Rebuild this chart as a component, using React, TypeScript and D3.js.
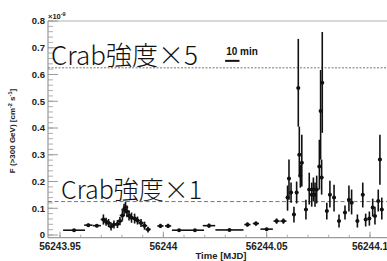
import React from 'react';
import * as d3 from 'd3';

// light curve points (MJD, flux in 1e-9 cm^-2 s^-1)
const times = [
  56243.9568, 56243.9637, 56243.9678, 56243.971, 56243.9723, 56243.9735, 56243.9747, 56243.9761,
  56243.9778, 56243.979, 56243.9802, 56243.981, 56243.9817, 56243.9824, 56243.9834, 56243.9846,
  56243.9861, 56243.9875, 56243.9892, 56243.9909, 56243.9926, 56243.9986, 56244.0023, 56244.0076,
  56244.0153, 56244.0221, 56244.032, 56244.0407, 56244.0448, 56244.05, 56244.0548, 56244.0581,
  56244.0601, 56244.0608, 56244.0618, 56244.0632, 56244.0645, 56244.0653, 56244.0658, 56244.0663,
  56244.067, 56244.069, 56244.0706, 56244.0718, 56244.0726, 56244.0734, 56244.0742, 56244.0755,
  56244.0761, 56244.0766, 56244.0769, 56244.0791, 56244.0806, 56244.0826, 56244.085, 56244.0879,
  56244.0898, 56244.0911, 56244.0939, 56244.0965, 56244.0979, 56244.0997, 56244.1013, 56244.1024,
  56244.104, 56244.1048, 56244.1057,
];
const timeErr = [
  0.0053, 0.002, 0.002, 0.0013, 0.0013, 0.0013, 0.0013, 0.0013,
  0.0013, 0.0013, 0.0013, 0.0013, 0.0013, 0.0013, 0.0013, 0.0013,
  0.0013, 0.0013, 0.0013, 0.0013, 0.0013, 0.0015, 0.0015, 0.0034,
  0.0044, 0.003, 0.0068, 0.0015, 0.0015, 0.003, 0.0015, 0.0015,
  0.0008, 0.0008, 0.0008, 0.0008, 0.0008, 0.0008, 0.0008, 0.0008,
  0.0008, 0.0008, 0.0008, 0.0008, 0.0008, 0.0008, 0.0008, 0.0008,
  0.0008, 0.0008, 0.0008, 0.0008, 0.0008, 0.0008, 0.0008, 0.0008,
  0.0008, 0.0008, 0.0008, 0.0008, 0.0008, 0.0008, 0.0008, 0.0008,
  0.0008, 0.0008, 0.0008,
];
const fluxes = [
  0.018, 0.037, 0.035, 0.058, 0.05, 0.045, 0.032, 0.039,
  0.041, 0.052, 0.073, 0.095, 0.103, 0.088, 0.073, 0.065,
  0.062, 0.054, 0.045, 0.035, 0.021, 0.034, 0.034, 0.018,
  0.018, 0.035, 0.019, 0.039, 0.043, 0.022, 0.052, 0.052,
  0.14, 0.211, 0.159, 0.077, 0.159, 0.55, 0.3, 0.222,
  0.27, 0.095, 0.17, 0.151, 0.17, 0.151, 0.17, 0.256,
  0.464, 0.215, 0.569, 0.09, 0.151, 0.14, 0.052, 0.084,
  0.132, 0.121, 0.052, 0.151, 0.058, 0.062, 0.103, 0.071,
  0.127, 0.282, 0.095,
];
const fluxLow = [
  0.014, 0.031, 0.029, 0.039, 0.035, 0.03, 0.017, 0.024,
  0.026, 0.037, 0.054, 0.073, 0.081, 0.066, 0.054, 0.046,
  0.043, 0.039, 0.03, 0.02, 0.009, 0.026, 0.026, 0.014,
  0.014, 0.027, 0.015, 0.031, 0.035, 0.017, 0.042, 0.042,
  0.091, 0.132, 0.121, 0.047, 0.118, 0.405, 0.218, 0.177,
  0.181, 0.058, 0.114, 0.106, 0.125, 0.106, 0.118, 0.17,
  0.282, 0.151, 0.382, 0.058, 0.103, 0.088, 0.028, 0.058,
  0.088, 0.077, 0.028, 0.103, 0.032, 0.035, 0.069, 0.039,
  0.088, 0.188, 0.058,
];
const fluxHigh = [
  0.022, 0.043, 0.041, 0.077, 0.065, 0.06, 0.047, 0.054,
  0.056, 0.067, 0.092, 0.117, 0.125, 0.11, 0.092, 0.084,
  0.08, 0.069, 0.06, 0.05, 0.031, 0.042, 0.042, 0.022,
  0.022, 0.043, 0.022, 0.047, 0.051, 0.027, 0.062, 0.062,
  0.185, 0.282, 0.196, 0.106, 0.2, 0.733, 0.405, 0.263,
  0.375, 0.132, 0.233, 0.196, 0.215, 0.196, 0.222, 0.356,
  0.617, 0.282, 0.759, 0.121, 0.203, 0.188, 0.077, 0.11,
  0.185, 0.17, 0.077, 0.196, 0.08, 0.088, 0.136, 0.106,
  0.17, 0.375, 0.14,
];

const xTicks = [56243.95, 56244, 56244.05, 56244.1];
const xTickLabels = ['56243.95', '56244', '56244.05', '56244.1'];
const yTicks = [0, 0.1, 0.2, 0.3, 0.4, 0.5, 0.6, 0.7, 0.8];
const yTickLabels = ['0', '0.1', '0.2', '0.3', '0.4', '0.5', '0.6', '0.7', '0.8'];

const crabOne = 0.125;
const crabFive = 0.625;
const barStart = 56244.0299;
const barLevel = 0.651;
const tenMinutes = 10 / 1440;

const W = 387;
const H = 261;
const margin = { top: 21, left: 48, bottom: 23 };

const App: React.FC = () => {
  const x = d3.scaleLinear().domain([56243.95, 56244.1]).range([60, 370]);
  const y = d3.scaleLinear().domain([-0.01, 0.8]).range([H - margin.bottom - 0.3, margin.top]);
  const x0 = margin.left;
  const x1 = W + 4;
  const yBottom = y(-0.01);
  const yTop = y(0.8);

  const minorX = d3.range(56243.95, 56244.111, 0.01).filter((v) => x(v) > x0);
  const minorY = d3.range(0, 0.801, 0.02);

  const bold = { fontFamily: 'Liberation Sans, Arial, sans-serif', fontWeight: 700 };
  const cjk = { fontFamily: 'Noto Sans CJK JP, sans-serif' };
  const axisColor = '#9a9a9a';

  return (
    <svg width={W} height={H} style={{ position: 'absolute', left: 0, top: 0, background: '#fff' }}>
      {/* frame */}
      <line x1={x0} x2={x1} y1={yTop} y2={yTop} stroke="#b0b0b0" strokeWidth={1.2} />
      <line x1={x0} x2={x0} y1={yTop} y2={yBottom} stroke={axisColor} strokeWidth={1.2} />
      <line x1={x0} x2={x1} y1={yBottom} y2={yBottom} stroke={axisColor} strokeWidth={1.2} />

      {/* y ticks */}
      {minorY.map((v) => (
        <line key={'my' + v} x1={x0} x2={x0 + 5} y1={y(v)} y2={y(v)} stroke={axisColor} strokeWidth={0.8} />
      ))}
      {yTicks.map((v, i) => (
        <g key={'y' + v}>
          <line x1={x0} x2={x0 + 10} y1={y(v)} y2={y(v)} stroke={axisColor} strokeWidth={1} />
          <text x={x0 - 3} y={y(v) + 3.3} textAnchor="end" fontSize={9.5} fill="#222" style={bold}>
            {yTickLabels[i]}
          </text>
        </g>
      ))}

      {/* x ticks */}
      {minorX.map((v) => (
        <line key={'mx' + v} x1={x(v)} x2={x(v)} y1={yBottom} y2={yBottom - 3} stroke={axisColor} strokeWidth={0.8} />
      ))}
      {xTicks.map((v, i) => (
        <g key={'x' + v}>
          <line x1={x(v)} x2={x(v)} y1={yBottom} y2={yBottom - 6} stroke={axisColor} strokeWidth={1} />
          <text x={x(v)} y={yBottom + 12} textAnchor="middle" fontSize={10} fill="#222" style={bold}>
            {xTickLabels[i]}
          </text>
        </g>
      ))}

      <text x={221} y={259} textAnchor="middle" fontSize={9.5} fill="#222" style={bold}>
        Time [MJD]
      </text>
      <text transform="translate(15,131) rotate(-90)" textAnchor="middle" fontSize={8} fill="#222" style={bold}>
        F (&gt;300 GeV) [cm<tspan dy={-3} fontSize={5.5}>-2</tspan>
        <tspan dy={3}> s</tspan>
        <tspan dy={-3} fontSize={5.5}>-1</tspan>
        <tspan dy={3}>]</tspan>
      </text>
      <text x={x0} y={19} fontSize={7.5} fill="#222" style={bold}>
        ×10<tspan dy={-3} fontSize={5.5}>-9</tspan>
      </text>

      {/* Crab reference levels */}
      <line x1={x0} x2={x1} y1={y(crabFive)} y2={y(crabFive)} stroke="#777" strokeWidth={1} strokeDasharray="2,1.5" />
      <line x1={x0} x2={x1} y1={y(crabOne)} y2={y(crabOne)} stroke="#777" strokeWidth={1} strokeDasharray="4,2.5" />
      <text x={51} y={65} fontSize={26} fontWeight={300} fill="#111" style={cjk}>
        Crab強度×5
      </text>
      <text x={61} y={198.5} fontSize={25} fontWeight={300} fill="#111" style={cjk}>
        Crab強度×1
      </text>

      {/* 10 min scale bar */}
      <line x1={x(barStart)} x2={x(barStart + tenMinutes)} y1={y(barLevel)} y2={y(barLevel)} stroke="#111" strokeWidth={2} />
      <text x={x(barStart) + 1} y={55} fontSize={10} fill="#111" style={bold}>
        10 min
      </text>

      {/* data */}
      <g stroke="#111" strokeWidth={1.6}>
        {times.map((t, i) => (
          <g key={'p' + i}>
            <line x1={x(t - timeErr[i])} x2={x(t + timeErr[i])} y1={y(fluxes[i])} y2={y(fluxes[i])} />
            <line x1={x(t)} x2={x(t)} y1={y(fluxLow[i])} y2={y(fluxHigh[i])} />
            <circle cx={x(t)} cy={y(fluxes[i])} r={2} fill="#111" stroke="none" />
          </g>
        ))}
      </g>
    </svg>
  );
};

export default App;
